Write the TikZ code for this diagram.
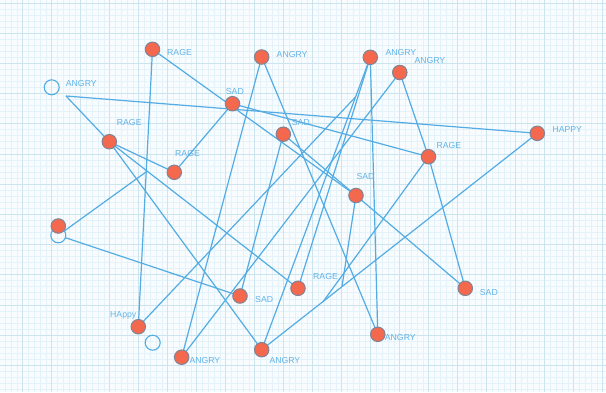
\documentclass[tikz,border=0pt]{standalone}
\usepackage{fontspec}
\setmainfont{Liberation Sans}
\pgfdeclarelayer{gridlayer}
\pgfdeclarelayer{edgelayer}
\pgfsetlayers{gridlayer,edgelayer,main}
\definecolor{paper}{RGB}{248,252,254}
\definecolor{gminor}{RGB}{228,243,249}
\definecolor{gmajor}{RGB}{204,228,238}
\definecolor{wirec}{RGB}{84,172,228}
\definecolor{dotfill}{RGB}{244,104,78}
\definecolor{dotrim}{RGB}{128,132,150}
\definecolor{lblc}{RGB}{98,180,232}
\begin{document}
\begin{tikzpicture}[x=1pt,y=-1pt,
  dot/.style={circle,fill=dotfill,draw=dotrim,line width=1pt,minimum size=14.5pt,inner sep=0pt},
  ring/.style={circle,draw=wirec,line width=1.1pt,minimum size=15pt,inner sep=0pt},
  lab/.style={text=lblc,font=\fontsize{8.7}{9}\selectfont,anchor=west,inner sep=0pt},
  link/.style={draw=wirec,line width=1.2pt}]
\useasboundingbox (0,0) rectangle (606,392);
\begin{pgfonlayer}{gridlayer}
  \fill[paper] (0,0) rectangle (606,392);
  \foreach \i in {0,...,103} {\draw[gminor,line width=0.5pt] ({5.3+5.8*\i},0) -- ({5.3+5.8*\i},392);}
  \foreach \i in {0,...,64} {\draw[gminor,line width=0.5pt] (0,{2.8+6.04*\i}) -- (606,{2.8+6.04*\i});}
  \foreach \i in {0,...,20} {\draw[gmajor,line width=0.6pt] ({22.7+29*\i},0) -- ({22.7+29*\i},392);}
  \foreach \i in {0,...,12} {\draw[gmajor,line width=0.6pt] (0,{2.8+30.2*\i}) -- (606,{2.8+30.2*\i});}
\end{pgfonlayer}
% nodes
\node[dot] (R1) at (152.5,49.3) {};
\node[dot] (A1) at (261.7,57) {};
\node[dot] (A2) at (370.3,57.3) {};
\node[dot] (A3) at (399.8,72.5) {};
\node[dot] (S1) at (232.5,103.7) {};
\node[dot] (S2) at (283.3,134.2) {};
\node[dot] (R2) at (109.3,141.7) {};
\node[dot] (R3) at (174.3,172.3) {};
\node[dot] (H1) at (537.3,133.3) {};
\node[dot] (R4) at (428.5,156.7) {};
\node[dot] (S3) at (356,195.5) {};
\node[ring] (O3) at (58.3,235.3) {};
\node[dot] (N1) at (58.3,226) {};
\node[dot] (S4) at (240,296) {};
\node[dot] (R5) at (298,288.3) {};
\node[dot] (S5) at (465.3,288.3) {};
\node[dot] (H2) at (138.3,326.7) {};
\node[ring] (O2) at (152.7,342.7) {};
\node[dot] (A4) at (181.7,357.2) {};
\node[dot] (A5) at (261.7,349.7) {};
\node[dot] (A6) at (377.8,334.3) {};
\node[ring] (O1) at (51.7,87.3) {};
% free ends
\coordinate (p) at (66,96);
\coordinate (t) at (146,172);
\coordinate (r) at (355.5,97);
\coordinate (q) at (342,286.5);
\coordinate (s) at (323,301.8);
% labels
\node[lab] (lR1) at (167,52.7) {RAGE};
\node[lab] (lA1) at (276.5,54) {ANGRY};
\node[lab] (lA2) at (385.3,52.7) {ANGRY};
\node[lab] (lA3) at (414.3,60.7) {ANGRY};
\node[lab] (lO1) at (65.7,83.3) {ANGRY};
\node[lab] (lS1) at (225.7,91) {SAD};
\node[lab] (lS2) at (291.7,122.3) {SAD};
\node[lab] (lR2) at (116.7,122.3) {RAGE};
\node[lab] (lR3) at (175,153.3) {RAGE};
\node[lab] (lH1) at (552.3,130) {HAPPY};
\node[lab] (lR4) at (436.3,145.3) {RAGE};
\node[lab] (lS3) at (356.3,176) {SAD};
\node[lab] (lS4) at (255,299.3) {SAD};
\node[lab] (lR5) at (313,276) {RAGE};
\node[lab] (lS5) at (479.7,292) {SAD};
\node[lab] (lH2) at (110,315.3) {HAppy};
\node[lab] (lA4) at (189.3,360.3) {ANGRY};
\node[lab] (lA5) at (269.3,360.3) {ANGRY};
\node[lab] (lA6) at (384.7,337.7) {ANGRY};
% connectors
\begin{pgfonlayer}{edgelayer}
  \draw[link] (p) -- (H1.center);
  \draw[link] (p) -- (R2.center);
  \draw[link] (R2.center) -- (A5.center);
  \draw[link] (R2.center) -- (R3.center);
  \draw[link] (R2.center) -- (R5.center);
  \draw[link] (R3.center) -- (S1.center);
  \draw[link] (R1.center) -- (H2.center);
  \draw[link] (R1.center) -- (S3.center);
  \draw[link] (S1.center) -- (R4.center);
  \draw[link] (S2.center) -- (S4.center);
  \draw[link] (S2.center) -- (S3.center);
  \draw[link] (S3.center) -- (S5.center);
  \draw[link] (S3.center) -- (q);
  \draw[link] (A1.center) -- (A4.center);
  \draw[link] (A1.center) -- (A6.center);
  \draw[link] (A2.center) -- (A6.center);
  \draw[link] (A2.center) -- (A5.center);
  \draw[link] (A2.center) -- (R5.center);
  \draw[link] (A3.center) -- (A4.center);
  \draw[link] (A3.center) -- (R4.center);
  \draw[link] (R4.center) -- (S5.center);
  \draw[link] (R4.center) -- (s);
  \draw[link] (H1.center) -- (A5.center);
  \draw[link] (H2.center) -- (r);
  \draw[link] (O3) -- (t);
  \draw[link] (O3) -- (S4.center);
\end{pgfonlayer}
\end{tikzpicture}
\end{document}
